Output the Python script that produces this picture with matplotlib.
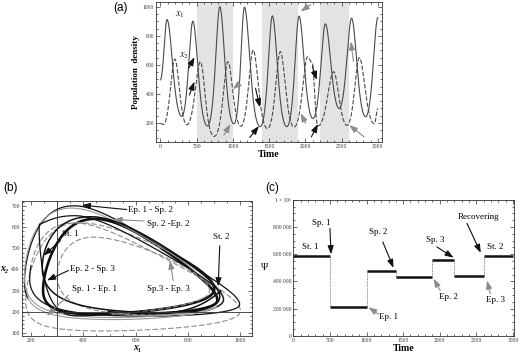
import numpy as np
import matplotlib
matplotlib.use("Agg")
import matplotlib.pyplot as plt
from matplotlib.ticker import MultipleLocator

plt.rcParams['font.family'] = ['Liberation Serif', 'DejaVu Serif']
plt.rcParams['mathtext.fontset'] = 'stix'

# ---- data ----
# panel (a): turning points of the two population curves (time, value)
x1_time = [0, 92, 295, 448, 650, 820, 1015, 1160, 1378, 1545, 1745, 1913, 2105, 2276, 2467, 2638, 2832, 3000]
x1_value = [497, 912, 246, 900, 180, 1000, 195, 997, 175, 937, 175, 935, 231, 882, 300, 921, 243, 925]
x2_time = [0, 40, 200, 365, 553, 742, 932, 1110, 1280, 1477, 1655, 1845, 2030, 2095, 2175, 2390, 2575, 2744, 2950, 3000]
x2_value = [198, 190, 640, 188, 622, 108, 621, 178, 702, 162, 691, 172, 655, 615, 180, 553, 184, 650, 195, 300]

# perturbation phases (shaded in (a))
shade_start = [500, 1400, 2200]
shade_end = [1000, 1900, 2600]

# panel (c): Psi per phase
phase_start = [0, 500, 1000, 1400, 1900, 2200, 2600]
phase_end = [500, 1000, 1400, 1900, 2200, 2600, 3000]
psi_value = [590000, 215000, 480000, 435000, 560000, 440000, 585000]
psi_ticks = [0, 200000, 400000, 600000, 800000, 1000000]
psi_ticklabels = ["0", "200 000", "400 000", "600 000", "800 000", "1 × 10⁶"]

# panel (b): which phase each orbit piece belongs to and its label
orbit_names = ["St. 1", "Sp. 1 - Ep. 1", "Ep. 1 - Sp. 2", "Sp. 2 -Ep. 2", "Ep. 2 - Sp. 3", "Sp.3 - Ep. 3", "St. 2"]


def through_points(tk, vk, t):
    # smooth curve through the turning points (flat at each one),
    # eased on a log scale so troughs are broad and peaks sharp
    tk = np.asarray(tk, float)
    lv = np.log(np.asarray(vk, float))
    i = np.clip(np.searchsorted(tk, t, side='right') - 1, 0, len(tk) - 2)
    s = (t - tk[i]) / (tk[i + 1] - tk[i])
    w = (1 - np.cos(np.pi * s)) / 2
    return np.exp(lv[i] + (lv[i + 1] - lv[i]) * w)


t = np.linspace(0, 3000, 3001)
x1 = through_points(x1_time, x1_value, t)
x2 = through_points(x2_time, x2_value, t)

fig = plt.figure(figsize=(5.2, 3.55), dpi=100)

frame_col = '#333333'
line_col = '#4a4a4a'


def style_axes(ax):
    for sp in ax.spines.values():
        sp.set_linewidth(0.6)
        sp.set_color(frame_col)
    ax.tick_params(which='both', direction='in', top=True, right=True,
                   width=0.5, colors=frame_col, labelsize=4, pad=1.5)
    ax.tick_params(which='major', length=2.6)
    ax.tick_params(which='minor', length=1.4)


def arrow(ax, tail, head, col, lw=0.8):
    ax.annotate('', xy=head, xytext=tail,
                arrowprops=dict(arrowstyle='-|>,head_length=0.5,head_width=0.18',
                                color=col, lw=lw, shrinkA=0, shrinkB=0))


# ---------------- (a) ----------------
ax1 = fig.add_axes([0.300, 0.601, 0.435, 0.394])
for a, b in zip(shade_start, shade_end):
    ax1.axvspan(a, b, color='#e3e3e3', lw=0, zorder=0)
ax1.plot(t, x1, color=line_col, lw=0.8)
ax1.plot(t, x2, color=line_col, lw=0.8, dashes=(4, 1.6))
ax1.set_xlim(-60, 3060)
ax1.set_ylim(72, 1034)
ax1.xaxis.set_major_locator(MultipleLocator(500))
ax1.xaxis.set_minor_locator(MultipleLocator(100))
ax1.yaxis.set_major_locator(MultipleLocator(200))
ax1.yaxis.set_minor_locator(MultipleLocator(50))
style_axes(ax1)
ax1.set_xlabel("Time", fontsize=7, fontweight='bold', labelpad=1)
ax1.set_ylabel("Population  density", fontsize=6.5, fontweight='bold', labelpad=2)
ax1.text(200, 935, r'$x_1$', fontsize=7.5, color='#222')
ax1.text(255, 648, r'$x_2$', fontsize=7.5, color='#222')

black = '#111111'
grey = '#8c8c8c'
arrows_a = [
    ((392, 577), (470, 653), black), ((401, 393), (470, 485), black),
    ((1069, 462), (1000, 432), grey), ((876, 117), (968, 193), grey),
    ((1313, 439), (1373, 308), black), ((1235, 101), (1359, 179), black),
    ((2074, 1014), (1936, 968), grey), ((2005, 198), (1935, 267), grey),
    ((2097, 588), (2157, 497), black), ((2083, 105), (2175, 193), black),
    ((2664, 623), (2627, 761), grey), ((2811, 105), (2603, 186), grey),
]
for tail, head, col in arrows_a:
    arrow(ax1, tail, head, col)
fig.text(0.232, 0.977, "(a)", family='Liberation Sans', fontsize=8.5, ha='center', va='center')

# ---------------- (b) ----------------
ax2 = fig.add_axes([0.042, 0.054, 0.443, 0.380])
orbit_style = [
    dict(color=black, lw=1.9),
    dict(color=grey, lw=0.8, dashes=(5, 2)),
    dict(color=black, lw=0.9),
    dict(color='#9a9a9a', lw=0.8),
    dict(color=black, lw=0.9),
    dict(color=grey, lw=0.8, dashes=(5, 2)),
    dict(color=black, lw=1.1),
]
for k in range(len(phase_start)):
    m = (t >= phase_start[k]) & (t <= phase_end[k])
    ax2.plot(x1[m], x2[m], **orbit_style[k])
ax2.axvline(300, color=frame_col, lw=0.6)
ax2.axhline(200, color=frame_col, lw=0.6)
ax2.set_xlim(165, 1045)
ax2.set_ylim(85, 725)
ax2.xaxis.set_major_locator(MultipleLocator(200))
ax2.xaxis.set_minor_locator(MultipleLocator(50))
ax2.yaxis.set_major_locator(MultipleLocator(100))
ax2.yaxis.set_minor_locator(MultipleLocator(20))
style_axes(ax2)
ax2.set_xlabel("x₁", fontsize=7, fontweight='bold', fontstyle='italic', labelpad=0)
ax2.set_ylabel("x₂", fontsize=7, fontweight='bold', fontstyle='italic', rotation=0, labelpad=5, va='center')

labels_b = [
    (318, 567, (312, 536), (248, 466), black),
    (356, 309, (343, 278), (261, 180), grey),
    (572, 680, (566, 684), (394, 705), black),
    (642, 614, (629, 630), (515, 637), grey),
    (350, 403, (343, 395), (261, 348), black),
    (642, 309, (743, 348), (731, 442), grey),
    (896, 552, (921, 512), (915, 320), black),
]
for name, (lx, ly, tail, head, col) in zip(orbit_names, labels_b):
    ax2.text(lx, ly, name, fontsize=6.5, va='center', ha='left')
    arrow(ax2, tail, head, col)
fig.text(0.021, 0.470, "(b)", family='Liberation Sans', fontsize=8.5, ha='center', va='center')

# ---------------- (c) ----------------
ax3 = fig.add_axes([0.564, 0.054, 0.424, 0.383])
ax3.hlines(psi_value, phase_start, phase_end, color=black, lw=1.8)
for k in range(1, len(phase_start)):
    lo, hi = sorted([psi_value[k - 1], psi_value[k]])
    ax3.vlines(phase_start[k], lo, hi, color='#555555', lw=0.6, linestyles=(0, (1, 1.2)))
ax3.set_xlim(0, 3010)
ax3.set_ylim(0, 1000000)
ax3.xaxis.set_major_locator(MultipleLocator(500))
ax3.xaxis.set_minor_locator(MultipleLocator(100))
ax3.set_yticks(psi_ticks)
ax3.set_yticklabels(psi_ticklabels)
ax3.yaxis.set_minor_locator(MultipleLocator(50000))
style_axes(ax3)
ax3.set_xlabel("Time", fontsize=7, fontweight='bold', labelpad=1)
ax3.set_ylabel("Ψ", fontsize=7, rotation=0, labelpad=6, va='center')

labels_c = [
    ("St. 1", 230, 650000, None, None, black),
    ("Sp. 1", 388, 827000, (501, 790000), (515, 600000), black),
    ("Ep. 1", 1300, 136000, (1163, 160000), (1026, 210000), grey),
    ("Sp. 2", 1163, 765000, (1222, 691000), (1368, 500000), black),
    ("Ep. 2", 2120, 284000, (2006, 333000), (1915, 420000), grey),
    ("Sp. 3", 1938, 704000, (1960, 654000), (2188, 575000), black),
    ("Recovering", 2530, 872000, (2371, 827000), (2560, 610000), black),
    ("St. 2", 2758, 654000, None, None, black),
    ("Ep. 3", 2758, 260000, (2690, 309000), (2644, 407000), grey),
]
for name, lx, ly, tail, head, col in labels_c:
    ax3.text(lx, ly, name, fontsize=6.5, ha='center', va='center')
    if tail is not None:
        arrow(ax3, tail, head, col)
fig.text(0.523, 0.470, "(c)", family='Liberation Sans', fontsize=8.5, ha='center', va='center')

fig.savefig("out.png", dpi=100)
